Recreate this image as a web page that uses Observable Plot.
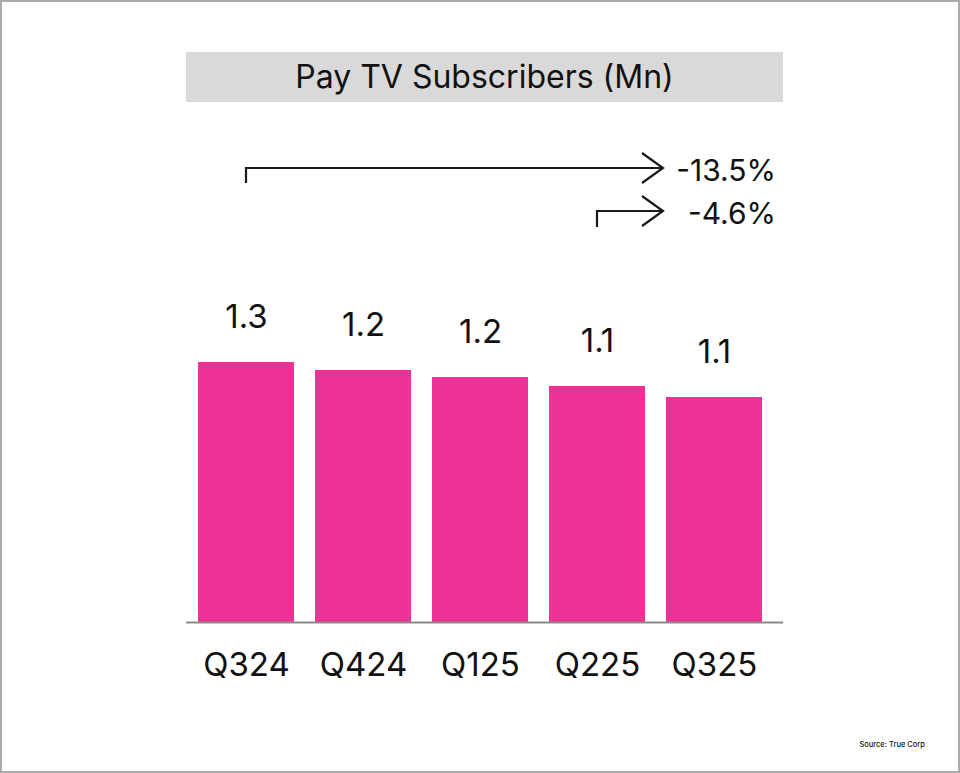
<!DOCTYPE html>
<html>
<head>
<meta charset="utf-8">
<script src="https://cdn.jsdelivr.net/npm/d3@7"></script>
<script src="https://cdn.jsdelivr.net/npm/@observablehq/plot@0.6"></script>
<style>
  html, body { margin: 0; padding: 0; background: #fff; }
  body { width: 960px; height: 773px; position: relative; overflow: hidden; font-family: Inter, "Liberation Sans", sans-serif; }
  #frame { position: absolute; left: 0; top: 0; width: 960px; height: 773px; box-sizing: border-box; border: 2px solid #ababab; pointer-events: none; z-index: 3; }
  #title { position: absolute; left: 186px; top: 52px; width: 597px; height: 50px; background: #d9d9d9; color: #111; font-size: 32px; line-height: 50px; text-align: center; z-index: 2; }
  #source { position: absolute; right: 35px; top: 740px; font-size: 7.5px; color: #111; font-weight: 500; z-index: 2; }
  #chart { position: absolute; left: 0; top: 0; z-index: 1; }
</style>
</head>
<body>
<div id="frame"></div>
<div id="title">Pay TV Subscribers (Mn)</div>
<div id="chart"></div>
<div id="source">Source: True Corp</div>
<script>
const quarters = ["Q324", "Q424", "Q125", "Q225", "Q325"];
const subscribers = [1.30, 1.26, 1.225, 1.18, 1.125];
const valueLabels = ["1.3", "1.2", "1.2", "1.1", "1.1"];
const changeFrom = ["Q324", "Q225"];
const changeLabels = ["-13.5%", "-4.6%"];

const data = quarters.map((q, i) => ({quarter: q, value: subscribers[i], label: valueLabels[i]}));

const plot = Plot.plot({
  width: 960,
  height: 773,
  marginLeft: 186,
  marginRight: 177,
  marginTop: 142,
  marginBottom: 151,
  style: {fontFamily: "Inter, 'Liberation Sans', sans-serif", background: "transparent", color: "#111"},
  x: {domain: quarters, paddingInner: 0.18, paddingOuter: 0, insetLeft: 12, insetRight: 21, label: null},
  y: {domain: [0, 2.4], axis: null},
  marks: [
    Plot.barY(data, {x: "quarter", y: "value", fill: "#ee3194"}),
    Plot.ruleY([0], {stroke: "#8a8a8a", strokeWidth: 2}),
    Plot.text(data, {x: "quarter", y: "value", text: "label", lineAnchor: "bottom", dy: -35, fontSize: 33, fill: "#111"}),
    Plot.axisX({tickSize: 0, tickPadding: 30, fontSize: 33, fill: "#111", label: null})
  ]
});
document.getElementById("chart").appendChild(plot);

// change annotations (arrows) positioned from the x scale
const xs = plot.scale("x");
const bw = xs.bandwidth;
const cx = q => xs.apply(q) + bw / 2;
const svg = d3.select(plot);
const tipX = 663;
const arrowRows = [{y: 168, drop: 15, textY: 170}, {y: 211, drop: 16, textY: 213}];
const g = svg.append("g").attr("fill", "none").attr("stroke", "#1a1a1a").attr("stroke-width", 2.2);
changeFrom.forEach((q, i) => {
  const r = arrowRows[i];
  const x0 = cx(q);
  g.append("path").attr("d", `M${x0},${r.y + r.drop}V${r.y}H${tipX}`);
  g.append("path").attr("d", `M${tipX - 21},${r.y - 15}L${tipX},${r.y}L${tipX - 21},${r.y + 15}`);
  svg.append("text")
    .attr("x", 776).attr("y", r.textY).attr("dy", "0.35em")
    .attr("text-anchor", "end").attr("font-size", 30).attr("fill", "#111")
    .text(changeLabels[i]);
});
</script>
</body>
</html>
